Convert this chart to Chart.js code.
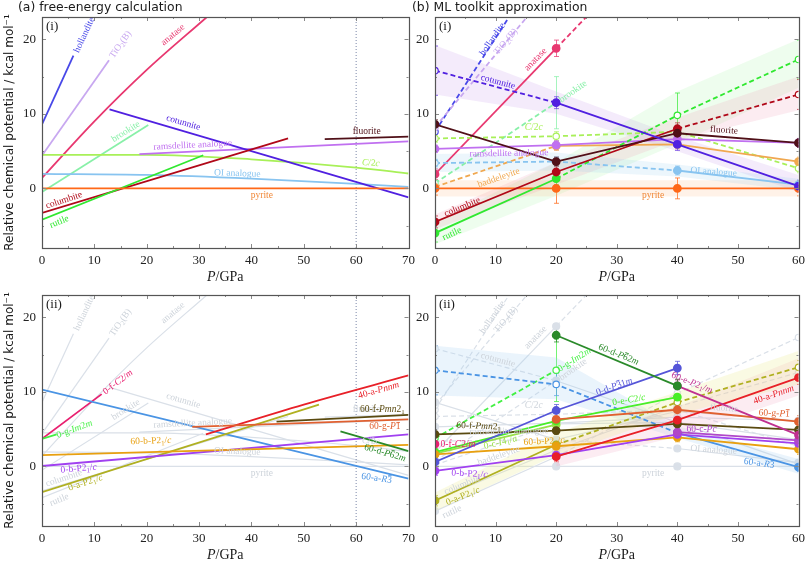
<!DOCTYPE html>
<html>
<head>
<meta charset="utf-8">
<script src="https://cdn.jsdelivr.net/npm/chart.js@4.4.1/dist/chart.umd.min.js"></script>
<style>
  html, body { margin: 0; padding: 0; background: #fff; }
  body { width: 810px; height: 562px; position: relative; overflow: hidden; }
  .panel { position: absolute; }
</style>
</head>
<body>
<div class="panel" style="left:0;top:0;width:420px;height:290px"><canvas id="feTop"></canvas></div>
<div class="panel" style="left:405px;top:0;width:405px;height:290px"><canvas id="mlTop"></canvas></div>
<div class="panel" style="left:0;top:280px;width:420px;height:282px"><canvas id="feBot"></canvas></div>
<div class="panel" style="left:405px;top:280px;width:405px;height:282px"><canvas id="mlBot"></canvas></div>
<script>
// ---- free-energy curves, [P/GPa, mu] ----
const feHollandite = [[0, 8.6], [6, 17.8]];
const feTiO2B = [[0, 4.4], [12.8, 17.2]];
const feAnatase = [[0, 1.4], [10, 9.0], [20, 15.9], [31.5, 23.0]];
const feBrookite = [[0, -0.5], [20.3, 8.5]];
const feCotunnite = [[12.9, 10.6], [70, -1.2]];
const feColumbite = [[0, -3.3], [47, 6.7]];
const feRutile = [[0, -4.2], [30.8, 4.45]];
const feRamsdellite = [[18.6, 4.6], [70, 6.3]];
const feC2c = [[0, 4.5], [20, 4.5], [40, 3.9], [60, 2.8], [70, 2.0]];
const feOI = [[0, 1.95], [20, 1.8], [40, 1.3], [60, 0.6], [70, 0.2]];
const fePyrite = [[0, 0], [70, 0]];
const feFluorite = [[54, 6.6], [70, 6.95]];

// new structures, panel (a)(ii)
const fe0fC2m = [[0, 3.7], [11.4, 9.7]];
const fe0gIm2m = [[0, 3.7], [2.8, 4.3]];
const fe60aR3 = [[0, 10.3], [70, -1.65]];
const fe0aP21c = [[0, -3.45], [52.9, 8.3]];
const fe0bP21c = [[0, 0.05], [70, 4.3]];
const fe60bP21c = [[0, 1.5], [70, 2.9]];
const fe40aPnnm = [[31.3, 4.3], [50, 8.3], [70, 12.2]];
const fe60fPmn21 = [[44.8, 6.0], [70, 6.9]];
const fe60gP1 = [[28.7, 5.3], [70, 6.3]];
const fe60dP62m = [[57, 4.7], [70, 2.05]];

// ---- ML toolkit, values at P_ML ----
const P_ML = [0, 20, 40, 60];
const Y_TICKS = [0, 10, 20];

const mlPyrite = [0, 0, 0, 0];
const mlRutile = [-6.0, 1.3, null, null];
const mlRutileExt = [null, 1.3, 9.8, 17.3];
const mlColumbite = [-4.5, 2.2, 8.0, null];
const mlColumbiteExt = [null, null, 8.0, 12.6];
const mlFluorite = [8.6, 3.6, 7.4, 6.1];
const mlCotunniteExt = [15.8, 11.5, null, null];
const mlCotunnite = [null, 11.5, 5.9, 0.3];
const mlHollanditeExt = [7.6, 32.8, null, null];
const mlTiO2BExt = [8.2, 27.7, null, null];
const mlAnatase = [1.9, 18.8, null, null];
const mlAnataseExt = [null, 18.8, 35.7, null];
const mlC2cExt = [6.7, 7.0, 7.6, 2.7];
const mlRamsdellite = [5.3, 5.8, 6.6, 6.1];
const mlBaddeleyiteExt = [0.2, 5.7, null, null];
const mlBaddeleyite = [null, 5.7, 5.9, 3.6];
const mlBrookiteExt = [0.7, 11.5, null, null];
const mlOIExt = [3.4, 3.6, 2.4, null];
const mlOI = [null, null, 2.4, 0.5];

const errPyrite = [0.9, 2.0, 1.4, 1.0];
const errRutile = [1.2, 0.8, 3.0, 2.6];
const errColumbite = [0.8, 0.8, 0.8, 2.0];
const errCotunnite = [3.3, 0.8, 0.8, 0.8];
const errAnatase = [0.7, 1.1, null, null];
const errBrookite = [0.8, 3.5, null, null];
const errFluorite = [0.6, 0.6, 0.6, 0.6];
const errC2c = [0.5, 0.6, 0.6, 0.6];
const errRamsdellite = [0.5, 0.6, 0.6, 0.6];
const errOI = [0.5, 0.6, 0.6, 0.6];
const errBaddeleyite = [0.5, 0.6, 0.6, 0.6];

const bandCotunniteLo = [12.6, 10.0, 5.0, -0.5];
const bandCotunniteHi = [19.2, 13.0, 7.0, 1.8];
const bandRutileLo = [-7.5, -1.0, 6.0, 13.5];
const bandRutileHi = [-4.5, 3.5, 13.0, 20.0];
const bandColumbiteLo = [-5.5, 0.5, 6.5, 10.5];
const bandColumbiteHi = [-3.5, 3.5, 9.5, 15.0];
const bandPyriteLo = [-1.1, -1.1, -1.1, -1.1];
const bandPyriteHi = [1.1, 1.1, 1.1, 1.1];
const bandOILo = [2.2, 2.4, 1.6, -0.3];
const bandOIHi = [4.6, 4.8, 3.2, 1.3];

// new structures, panel (b)(ii)
const ml60dP62m = [null, 17.6, 10.8, null];
const ml0gIm2mExt = [3.8, 12.9, null, null];
const ml0dP31m = [0.6, 7.5, 13.2, null];
const ml0eC2c = [1.9, 6.1, 9.3, null];
const ml0cI41a = [1.7, 5.6, null, null];
const ml60eP21m = [null, null, 10.8, 4.2];
const ml40aPnnm = [null, 1.3, 6.2, 11.9];
const ml60gP1 = [null, 6.3, 7.6, 6.0];
const ml60fPmn21 = [4.3, 4.8, 5.7, 4.9];
const ml60cPc = [null, null, 4.6, 3.5];
const ml0bP21c = [-0.6, 1.5, 4.3, 3.1];
const ml60bP21c = [1.6, 2.7, 3.9, 2.3];
const ml0aP21c = [-4.6, 2.9, null, null];
const ml0aP21cExt = [null, 2.9, 8.6, 13.3];
const ml60aR3Ext = [12.9, 11.0, 4.5, null];
const ml60aR3 = [null, null, 4.5, -0.1];
const ml0fC2m = [3.0, null, null, null];

const err60d = [null, 0.9, 0.9, null];
const err0g = [0.6, 4.2, null, null];
const err0d = [0.6, 0.8, 0.9, null];
const err0e = [0.5, 0.6, 0.6, null];
const err60e = [null, null, 0.8, 0.8];
const err40a = [null, 0.7, 0.8, 0.9];
const err60g = [null, 0.6, 0.6, 0.8];
const err60f = [0.4, 0.5, 0.5, 0.5];
const err0b = [0.6, 0.6, 0.6, 0.6];
const err60b = [0.5, 0.6, 0.6, 0.7];
const err0a = [0.7, 0.7, 0.8, 0.9];
const err60a = [3.3, 1.5, 0.6, 0.6];

const band60aLo = [9.5, 9.0, 3.8, -1.0];
const band60aHi = [16.2, 14.6, 5.4, 1.0];
const band40aLo = [null, 0.0, 4.0, 9.5];
const band40aHi = [null, 3.0, 8.0, 14.5];
const band0aLo = [-6.0, 1.5, 7.0, 11.0];
const band0aHi = [-3.5, 4.5, 10.0, 15.5];

// ---- styles ----
const SERIF = 'Liberation Serif';
const SANS = 'DejaVu Sans';
const GRAY = '#dae0e8';
const GRAY_TEXT = '#cdd3da';
const C = {
  hollandite: '#4848e8', tio2b: '#c8a8f0', anatase: '#e83870', brookite: '#88f0a8',
  cotunnite: '#5020e0', columbite: '#b00818', rutile: '#30e830', ramsdellite: '#c070f0',
  c2c: '#a8f058', oi: '#88c4f0', pyrite: '#ff6818', pyriteText: '#f08838', fluorite: '#501018',
  baddeleyite: '#f0a850',
  s0f: '#e82070', s0g: '#44f044', s60a: '#4a94e4', s0a: '#b0b020', s0b: '#a040f0',
  s60b: '#e8a010', s40a: '#e82028', s60f: '#5a4a10', s60g: '#e06030', s60d: '#2a8a2a',
  s0d: '#5555d8', s0e: '#48ee28', s0c: '#98e048', s60e: '#c03090', s60c: '#b048c8'
};

const xy = (xs, ys) => xs.map((x, i) => ({ x: x, y: ys[i] }));
const pairs = arr => arr.map(p => ({ x: p[0], y: p[1] }));

function lineDs(data, color, extra) {
  return Object.assign({
    data: data, borderColor: color, backgroundColor: color, borderWidth: 1.8,
    pointRadius: 0, fill: false, tension: 0, spanGaps: false
  }, extra || {});
}

// free-energy curve tables
const feCurves = [
  [feHollandite, C.hollandite], [feTiO2B, C.tio2b], [feAnatase, C.anatase],
  [feBrookite, C.brookite], [feC2c, C.c2c], [feOI, C.oi], [feRamsdellite, C.ramsdellite],
  [feCotunnite, C.cotunnite], [feColumbite, C.columbite], [feRutile, C.rutile],
  [fePyrite, C.pyrite], [feFluorite, C.fluorite]
];
const feNew = [
  [fe0fC2m, C.s0f], [fe0gIm2m, C.s0g], [fe60aR3, C.s60a], [fe0aP21c, C.s0a],
  [fe0bP21c, C.s0b], [fe60bP21c, C.s60b], [fe40aPnnm, C.s40a], [fe60fPmn21, C.s60f],
  [fe60gP1, C.s60g], [fe60dP62m, C.s60d]
];

function feDatasets(list, gray) {
  return list.map(([arr, col]) => lineDs(pairs(arr), gray ? GRAY : col, {
    borderWidth: gray ? 1.2 : 1.8,
    cubicInterpolationMode: arr.length > 2 ? 'monotone' : 'default'
  }));
}
function dottedSixty() {
  return lineDs([{ x: 60, y: -8 }, { x: 60, y: 23 }], '#7c88a8', { borderWidth: 1, borderDash: [1, 2] });
}

// ML series tables: solid part, dashed part, error bars, colour
const mlSeries = [
  { dash: mlHollanditeExt, c: C.hollandite },
  { dash: mlTiO2BExt, c: C.tio2b },
  { solid: mlAnatase, dash: mlAnataseExt, err: errAnatase, c: C.anatase },
  { dash: mlBrookiteExt, err: errBrookite, c: C.brookite },
  { dash: mlC2cExt, err: errC2c, c: C.c2c },
  { solid: mlBaddeleyite, dash: mlBaddeleyiteExt, err: errBaddeleyite, c: C.baddeleyite },
  { solid: mlOI, dash: mlOIExt, err: errOI, c: C.oi },
  { solid: mlRamsdellite, err: errRamsdellite, c: C.ramsdellite },
  { solid: mlPyrite, err: errPyrite, c: C.pyrite },
  { solid: mlRutile, dash: mlRutileExt, err: errRutile, c: C.rutile },
  { solid: mlColumbite, dash: mlColumbiteExt, err: errColumbite, c: C.columbite },
  { solid: mlFluorite, err: errFluorite, c: C.fluorite },
  { solid: mlCotunnite, dash: mlCotunniteExt, err: errCotunnite, c: C.cotunnite }
];
const mlBands = [
  [bandCotunniteLo, bandCotunniteHi, 'rgba(210,170,240,0.24)'],
  [bandRutileLo, bandRutileHi, 'rgba(140,240,140,0.15)'],
  [bandColumbiteLo, bandColumbiteHi, 'rgba(240,150,180,0.18)'],
  [bandPyriteLo, bandPyriteHi, 'rgba(255,175,120,0.17)'],
  [bandOILo, bandOIHi, 'rgba(150,205,240,0.18)']
];
const mlNew = [
  { dash: ml0gIm2mExt, err: err0g, c: C.s0g },
  { solid: ml0aP21c, dash: ml0aP21cExt, err: err0a, c: C.s0a },
  { solid: ml60aR3, dash: ml60aR3Ext, err: err60a, c: C.s60a },
  { solid: ml0cI41a, c: C.s0c },
  { solid: ml0eC2c, err: err0e, c: C.s0e },
  { solid: ml60bP21c, err: err60b, c: C.s60b },
  { solid: ml0bP21c, err: err0b, c: C.s0b },
  { solid: ml60cPc, c: C.s60c },
  { solid: ml60fPmn21, err: err60f, c: C.s60f },
  { solid: ml60gP1, err: err60g, c: C.s60g },
  { solid: ml40aPnnm, err: err40a, c: C.s40a },
  { solid: ml60eP21m, err: err60e, c: C.s60e },
  { solid: ml0dP31m, err: err0d, c: C.s0d },
  { solid: ml60dP62m, err: err60d, c: C.s60d },
  { solid: ml0fC2m, c: C.s0f }
];
const mlNewBands = [
  [band60aLo, band60aHi, 'rgba(160,205,240,0.22)'],
  [band40aLo, band40aHi, 'rgba(240,160,190,0.20)'],
  [band0aLo, band0aHi, 'rgba(235,235,140,0.24)']
];

function mlDatasets(series, gray) {
  const out = [];
  series.forEach(s => {
    const col = gray ? GRAY : s.c;
    const bw = gray ? 1.2 : 1.8;
    if (s.dash) {
      out.push(lineDs(xy(P_ML, s.dash), col, {
        borderWidth: bw, borderDash: [5, 3],
        pointRadius: s.dash.map((v, i) => (v == null || (s.solid && s.solid[i] != null)) ? 0 : 3.2),
        pointBackgroundColor: '#fff', pointBorderColor: col, pointBorderWidth: 1.2
      }));
    }
    if (s.solid) {
      out.push(lineDs(xy(P_ML, s.solid), col, {
        borderWidth: bw,
        pointRadius: s.solid.map(v => v == null ? 0 : 3.5),
        pointBackgroundColor: col, pointBorderColor: col
      }));
    }
  });
  return out;
}
function bandDatasets(bands) {
  const out = [];
  bands.forEach(([lo, hi, col]) => {
    out.push(lineDs(xy(P_ML, lo), 'rgba(0,0,0,0)', { borderWidth: 0 }));
    out.push(lineDs(xy(P_ML, hi), 'rgba(0,0,0,0)', { borderWidth: 0, fill: '-1', backgroundColor: col }));
  });
  return out;
}
function errItems(series) {
  return series.filter(s => s.err).map(s => ({
    v: P_ML.map((_, i) => s.solid && s.solid[i] != null ? s.solid[i] : (s.dash ? s.dash[i] : null)),
    e: s.err, c: s.c
  }));
}

// ---- line labels (data coordinates, angle in degrees) ----
const feLabels = [
  { t: 'hollandite', x: 8.1, y: 20.6, a: -65, c: C.hollandite },
  { t: 'TiO_2(B)', x: 15, y: 19.3, a: -55, c: C.tio2b },
  { t: 'anatase', x: 25, y: 20.6, a: -40, c: C.anatase },
  { t: 'brookite', x: 16, y: 7.6, a: -32, c: C.brookite },
  { t: 'cotunnite', x: 27, y: 8.8, a: 16, c: C.cotunnite },
  { t: 'ramsdellite analogue', x: 28.8, y: 5.8, a: -3, c: C.ramsdellite },
  { t: 'fluorite', x: 62, y: 7.6, a: 0, c: C.fluorite },
  { t: '*C*/2*c*', x: 62.8, y: 3.4, a: 4, c: C.c2c },
  { t: 'OI analogue', x: 37.3, y: 2.0, a: 2, c: C.oi },
  { t: 'pyrite', x: 42, y: -1.0, a: 0, c: C.pyriteText },
  { t: 'columbite', x: 4.2, y: -1.6, a: -18, c: C.columbite },
  { t: 'rutile', x: 3.3, y: -4.5, a: -22, c: C.rutile }
];
const feNewLabels = [
  { t: '0-f-*C*2/*m*', x: 14.5, y: 11.3, a: -37, c: C.s0f },
  { t: '0-g-*Im*2*m*', x: 6.2, y: 5.0, a: -20, c: C.s0g },
  { t: '40-a-*Pnnm*', x: 64.3, y: 10.2, a: -16, c: C.s40a },
  { t: '60-f-*Pmn*2_1', x: 65, y: 7.6, a: 0, c: C.s60f },
  { t: '60-g-*P*^1', x: 65.5, y: 5.3, a: 0, c: C.s60g },
  { t: '60-d-*P*^62*m*', x: 65.5, y: 1.8, a: 16, c: C.s60d },
  { t: '60-a-*R*^3', x: 63.9, y: -1.6, a: 8, c: C.s60a },
  { t: '60-b-P2_1/*c*', x: 20.8, y: 3.4, a: -2, c: C.s60b },
  { t: '0-b-P2_1/*c*', x: 7, y: -0.3, a: -5, c: C.s0b },
  { t: '0-a-P2_1/*c*', x: 8.3, y: -2.2, a: -18, c: C.s0a }
];
const mlLabels = [
  { t: 'hollandite', x: 9.5, y: 20, a: -55, c: C.hollandite },
  { t: 'TiO_2(B)', x: 11.7, y: 19.7, a: -50, c: C.tio2b },
  { t: 'anatase', x: 16.6, y: 17.3, a: -46, c: C.anatase },
  { t: 'cotunnite', x: 10.4, y: 14.3, a: 15, c: C.cotunnite },
  { t: 'brookite', x: 22.8, y: 13, a: -35, c: C.brookite },
  { t: '*C*/2*c*', x: 16.3, y: 8.2, a: 0, c: C.c2c },
  { t: 'ramsdellite analogue', x: 12.2, y: 4.7, a: -1, c: C.ramsdellite },
  { t: 'baddeleyite', x: 10.5, y: 1.4, a: -19, c: C.baddeleyite },
  { t: 'columbite', x: 4.5, y: -2.5, a: -22, c: C.columbite },
  { t: 'rutile', x: 2.8, y: -6.1, a: -24, c: C.rutile },
  { t: 'fluorite', x: 47.7, y: 7.8, a: 4, c: C.fluorite },
  { t: 'OI analogue', x: 46, y: 2.2, a: 4, c: C.oi },
  { t: 'pyrite', x: 36, y: -1.0, a: 0, c: C.pyriteText }
];
const mlNewLabels = [
  { t: '60-d-*P*^62*m*', x: 30.3, y: 15, a: 22, c: C.s60d },
  { t: '0-g-*Im*2*m*', x: 23, y: 14.3, a: -32, c: C.s0g },
  { t: '0-d-*P*^31*m*', x: 29.6, y: 10.7, a: -19, c: C.s0d },
  { t: '60-e-*P*2_1/*m*', x: 42.4, y: 11.2, a: 22, c: C.s60e },
  { t: '0-e-*C*2/*c*', x: 32, y: 8.9, a: -9, c: C.s0e },
  { t: '40-a-*Pnnm*', x: 55.9, y: 9.6, a: -19, c: C.s40a },
  { t: '60-g-*P*^1', x: 56, y: 7.1, a: 3, c: C.s60g },
  { t: '60-f-*Pmn*2_1', x: 7.2, y: 5.4, a: 2, c: C.s60f },
  { t: '0-f-*C*2/*m*', x: 3.8, y: 3.0, a: 0, c: C.s0f },
  { t: '0-c-*I*4_1/*a*', x: 10.8, y: 3.2, a: -14, c: C.s0c },
  { t: '60-b-P2_1/*c*', x: 18, y: 3.35, a: -3, c: C.s60b },
  { t: '60-c-*Pc*', x: 44, y: 4.9, a: 0, c: C.s60c },
  { t: '0-b-P2_1/*c*', x: 5.7, y: -1.0, a: 3, c: C.s0b },
  { t: '0-a-P2_1/*c*', x: 4.6, y: -4.0, a: -22, c: C.s0a },
  { t: '60-a-*R*^3', x: 53.5, y: 0.4, a: 8, c: C.s60a }
];
const grayed = list => list.map(l => Object.assign({}, l, { c: GRAY_TEXT }));

// ---- rich text: *italic*, _x subscript, ^x overbar ----
function parseRich(s) {
  const runs = [];
  let it = false;
  for (let i = 0; i < s.length; i++) {
    const ch = s[i];
    if (ch === '*') { it = !it; continue; }
    if (ch === '_') { runs.push({ t: s[++i], it: it, sub: true }); continue; }
    if (ch === '^') { runs.push({ t: s[++i], it: it, bar: true }); continue; }
    const last = runs[runs.length - 1];
    if (last && !last.sub && !last.bar && last.it === it) last.t += ch;
    else runs.push({ t: ch, it: it });
  }
  return runs;
}
function drawRich(ctx, s, size, family, align) {
  const runs = parseRich(s);
  const fontOf = r => (r.it ? 'italic ' : '') + (r.sub ? size * 0.72 : size) + 'px "' + family + '"';
  let w = 0;
  runs.forEach(r => { ctx.font = fontOf(r); r.w = ctx.measureText(r.t).width; w += r.w; });
  let x = align === 'left' ? 0 : -w / 2;
  ctx.textAlign = 'left';
  ctx.textBaseline = 'middle';
  runs.forEach(r => {
    ctx.font = fontOf(r);
    ctx.fillText(r.t, x, r.sub ? size * 0.28 : 0);
    if (r.bar) ctx.fillRect(x + 0.5, -size * 0.52, r.w - 1, 0.8);
    x += r.w;
  });
}

const panelInfo = {};

const panelPlugin = {
  id: 'panelDeco',
  beforeDatasetsDraw(chart) {
    const info = panelInfo[chart.canvas.id];
    const a = chart.chartArea, xs = chart.scales.x, ys = chart.scales.y, ctx = chart.ctx;
    ctx.save();
    ctx.beginPath(); ctx.rect(a.left, a.top, a.width, a.height); ctx.clip();
    ctx.lineWidth = 1;
    (info.errs || []).forEach(it => {
      ctx.strokeStyle = it.c;
      ctx.globalAlpha = 0.75;
      P_ML.forEach((p, i) => {
        if (it.v[i] == null || it.e[i] == null) return;
        const px = Math.round(xs.getPixelForValue(p)) + 0.5;
        const y1 = ys.getPixelForValue(it.v[i] - it.e[i]);
        const y2 = ys.getPixelForValue(it.v[i] + it.e[i]);
        ctx.beginPath();
        ctx.moveTo(px, y1); ctx.lineTo(px, y2);
        ctx.moveTo(px - 2.5, y1); ctx.lineTo(px + 2.5, y1);
        ctx.moveTo(px - 2.5, y2); ctx.lineTo(px + 2.5, y2);
        ctx.stroke();
      });
    });
    ctx.restore();
  },
  afterDatasetsDraw(chart) {
    const info = panelInfo[chart.canvas.id];
    const a = chart.chartArea, xs = chart.scales.x, ys = chart.scales.y, ctx = chart.ctx;
    // line labels
    ctx.save();
    ctx.beginPath(); ctx.rect(a.left, a.top, a.width, a.height); ctx.clip();
    info.labels.forEach(l => {
      ctx.save();
      ctx.translate(xs.getPixelForValue(l.x), ys.getPixelForValue(l.y));
      ctx.rotate(l.a * Math.PI / 180);
      ctx.fillStyle = l.c;
      drawRich(ctx, l.t, 9.5, SERIF);
      ctx.restore();
    });
    ctx.restore();

    // frame and inward ticks
    ctx.save();
    ctx.strokeStyle = '#8a8a8a';
    ctx.lineWidth = 1;
    for (let v = 0; v <= xs.max; v += 5) {
      const px = Math.round(xs.getPixelForValue(v)) + 0.5;
      const len = v % 10 === 0 ? 4 : 2;
      ctx.beginPath();
      ctx.moveTo(px, a.bottom); ctx.lineTo(px, a.bottom - len);
      ctx.moveTo(px, a.top); ctx.lineTo(px, a.top + len);
      ctx.stroke();
    }
    for (let v = -5; v <= 20; v += 5) {
      const py = Math.round(ys.getPixelForValue(v)) + 0.5;
      const len = v % 10 === 0 ? 4 : 2;
      ctx.beginPath();
      ctx.moveTo(a.left, py); ctx.lineTo(a.left + len, py);
      ctx.moveTo(a.right, py); ctx.lineTo(a.right - len, py);
      ctx.stroke();
    }
    ctx.strokeStyle = '#555';
    ctx.lineWidth = 1.2;
    ctx.strokeRect(Math.round(a.left) + 0.5, Math.round(a.top) + 0.5, Math.round(a.width), Math.round(a.height));

    // texts
    ctx.fillStyle = '#1a1a1a';
    ctx.save();
    ctx.translate(a.left + 4, a.top + 10);
    drawRich(ctx, info.tag, 13, SERIF, 'left');
    ctx.restore();
    ctx.save();
    ctx.translate((a.left + a.right) / 2, a.bottom + 29);
    drawRich(ctx, '*P*/GPa', 14, SERIF);
    ctx.restore();
    if (info.title) {
      ctx.font = '12.4px "' + SANS + '"';
      ctx.textAlign = 'left';
      ctx.textBaseline = 'middle';
      ctx.fillText(info.title, info.titleX, 8);
    }
    if (info.yTitle) {
      ctx.save();
      ctx.translate(10, (a.top + a.bottom) / 2);
      ctx.rotate(-Math.PI / 2);
      ctx.font = '12px "' + SANS + '"';
      ctx.textAlign = 'center';
      ctx.textBaseline = 'middle';
      ctx.fillText('Relative chemical potential / kcal mol\u207B\u00B9', 0, 0);
      ctx.restore();
    }
    ctx.restore();
  }
};

function makeChart(id, datasets, cfg) {
  panelInfo[id] = cfg;
  datasets.forEach((d, i) => { d.order = -i; });
  return new Chart(document.getElementById(id), {
    type: 'line',
    data: { datasets: datasets },
    options: {
      responsive: true, maintainAspectRatio: false, animation: false, events: [],
      layout: { padding: cfg.pad },
      scales: {
        x: {
          type: 'linear', min: 0, max: cfg.xMax,
          grid: { display: false, drawTicks: false }, border: { display: false },
          ticks: { stepSize: 10, padding: 5, color: '#222', maxRotation: 0, font: { family: SERIF, size: 13 } },
          afterFit: s => { s.height = 32; }
        },
        y: {
          type: 'linear', min: -8, max: 23,
          grid: { display: false, drawTicks: false }, border: { display: false },
          ticks: { padding: 6, color: '#222', font: { family: SERIF, size: 13 } },
          afterBuildTicks: s => { s.ticks = Y_TICKS.map(v => ({ value: v })); },
          afterFit: s => { s.width = cfg.yw; }
        }
      },
      plugins: { legend: { display: false }, tooltip: { enabled: false } }
    },
    plugins: [panelPlugin]
  });
}

// (a)(i)
makeChart('feTop', [dottedSixty()].concat(feDatasets(feCurves, false)), {
  pad: { top: 17, right: 10, bottom: 10, left: 0 }, yw: 42, xMax: 70,
  title: '(a) free-energy calculation', titleX: 18, tag: '(i)', yTitle: true, labels: feLabels
});
// (b)(i)
makeChart('mlTop', bandDatasets(mlBands).concat(mlDatasets(mlSeries, false)), {
  pad: { top: 17, right: 6, bottom: 10, left: 0 }, yw: 30, xMax: 60,
  title: '(b) ML toolkit approximation', titleX: 7, tag: '(i)', yTitle: false, labels: mlLabels,
  errs: errItems(mlSeries)
});
// (a)(ii)
makeChart('feBot', feDatasets(feCurves, true).concat([dottedSixty()], feDatasets(feNew, false)), {
  pad: { top: 15, right: 10, bottom: 4, left: 0 }, yw: 42, xMax: 70,
  tag: '(ii)', yTitle: true, labels: grayed(feLabels).concat(feNewLabels)
});
// (b)(ii)
makeChart('mlBot', mlDatasets(mlSeries, true).concat(bandDatasets(mlNewBands), mlDatasets(mlNew, false)), {
  pad: { top: 15, right: 6, bottom: 4, left: 0 }, yw: 30, xMax: 60,
  tag: '(ii)', yTitle: false, labels: grayed(mlLabels).concat(mlNewLabels),
  errs: errItems(mlNew)
});
</script>
</body>
</html>
